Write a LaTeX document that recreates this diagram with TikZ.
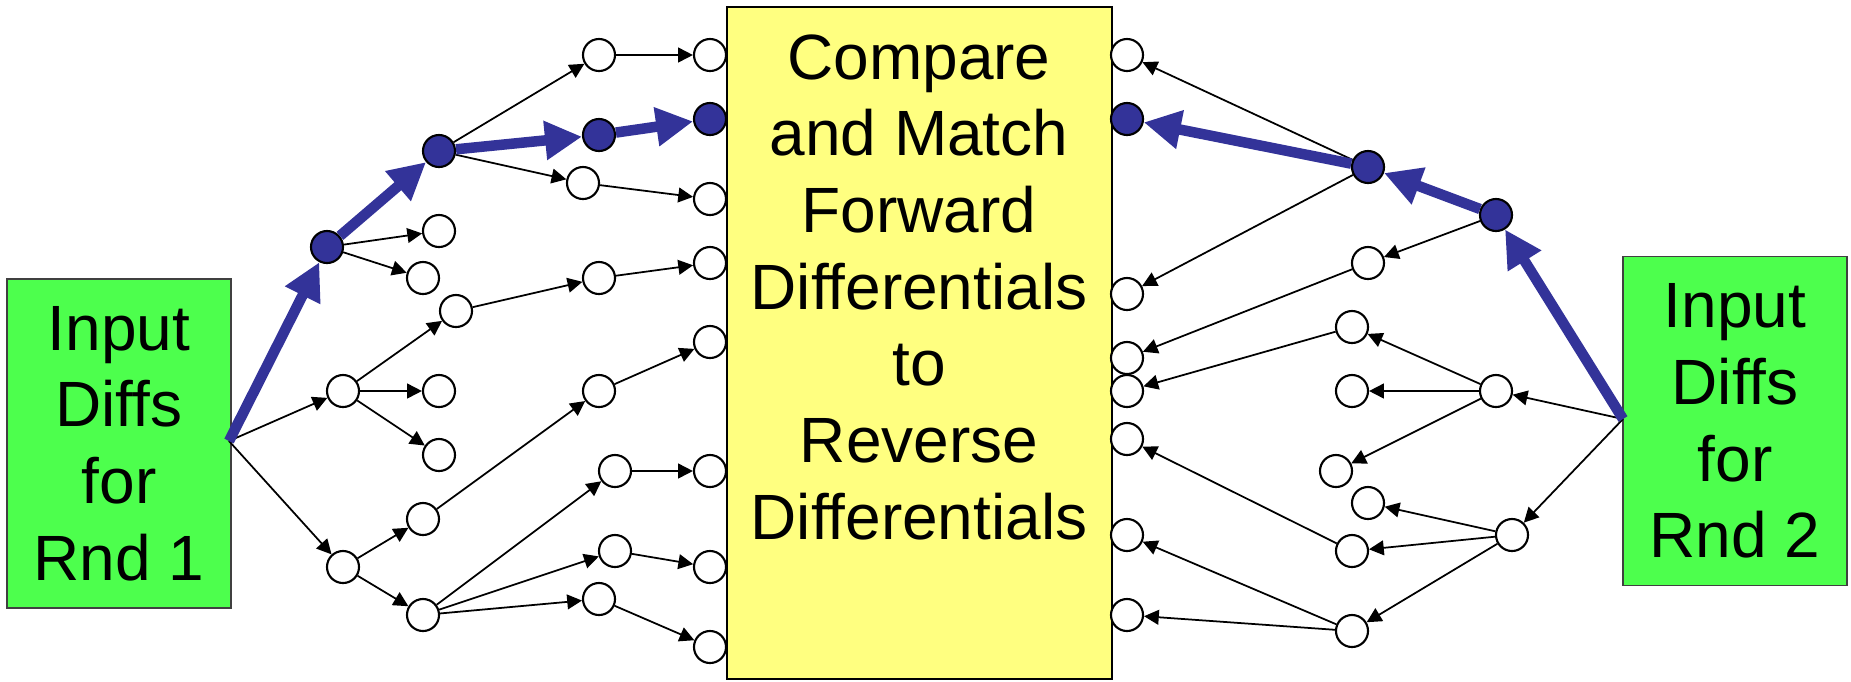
\documentclass[tikz,border=0pt]{standalone}
\usepackage{fontspec}
\setmainfont{Liberation Sans}
\usetikzlibrary{arrows.meta}
\definecolor{boxgreen}{RGB}{77,255,77}
\definecolor{boxyellow}{RGB}{255,255,128}
\definecolor{pathblue}{RGB}{51,51,153}

\begin{document}
\begin{tikzpicture}[x=0.01cm, y=-0.01cm,
  dot/.style={circle, draw, line width=0.6pt, fill=white, minimum size=0.32cm, inner sep=0pt},
  hit/.style={dot, fill=pathblue},
  fwd/.style={-{Triangle[length=4.2pt,width=4.2pt]}, line width=0.5pt},
  hot/.style={-{Triangle[length=0.37cm,width=0.37cm]}, line width=0.105cm, pathblue},
  bigtext/.style={align=center, font=\fontsize{18.2pt}{21.8pt}\selectfont, inner sep=0pt},
  inbox/.style={bigtext, draw=black!75, line width=0.5pt, fill=boxgreen, minimum width=2.24cm, minimum height=3.29cm}]
\useasboundingbox (0,0) rectangle (1851,681);
\node[draw, line width=0.6pt, fill=boxyellow, minimum width=3.85cm, minimum height=6.72cm, inner sep=0pt] (match) at (919.5,343) {};
\node[bigtext] (matchtext) at (919,287) {Compare\\and Match\\Forward\\Differentials\\to\\Reverse\\Differentials};
\node[inbox] (in1) at (119,443.5) {Input\\Diffs\\for\\Rnd 1};
\node[inbox] (in2) at (1735,421) {Input\\Diffs\\for\\Rnd 2};
\coordinate (src1) at (229,441);
\coordinate (src2) at (1623,419);

\node[hit] (b1) at (327,247) {};
\node[hit] (b2) at (439,151) {};
\node[hit] (b3) at (599,135) {};
\node[hit] (tb) at (710,119) {};
\node[dot] (a1) at (599,55) {};
\node[dot] (t1) at (710,55) {};
\node[dot] (c) at (583,183) {};
\node[dot] (t3) at (710,199) {};
\node[dot] (d1) at (439,231) {};
\node[dot] (d2) at (423,278) {};
\node[dot] (g) at (343,391) {};
\node[dot] (g1) at (439,391) {};
\node[dot] (g2) at (439,455) {};
\node[dot] (e) at (456,311) {};
\node[dot] (f) at (599,278) {};
\node[dot] (t4) at (710,263) {};
\node[dot] (h) at (343,567) {};
\node[dot] (h1) at (423,519) {};
\node[dot] (k) at (599,391) {};
\node[dot] (t5) at (710,342) {};
\node[dot] (h2) at (423,615) {};
\node[dot] (m1) at (615,471) {};
\node[dot] (t6) at (710,471) {};
\node[dot] (m2) at (615,551) {};
\node[dot] (t7) at (710,567) {};
\node[dot] (m3) at (599,599) {};
\node[dot] (t8) at (710,647) {};

\node[dot] (r1) at (1127,55) {};
\node[hit] (rb) at (1127,119) {};
\node[dot] (r3) at (1127,294) {};
\node[dot] (r4) at (1127,358) {};
\node[dot] (r5) at (1127,391) {};
\node[dot] (r6) at (1127,439) {};
\node[dot] (r7) at (1127,535) {};
\node[dot] (r8) at (1127,615) {};
\node[hit] (rc) at (1368,167) {};
\node[hit] (rd) at (1496,215) {};
\node[dot] (re) at (1368,263) {};
\node[dot] (rf) at (1352,327) {};
\node[dot] (rg) at (1352,391) {};
\node[dot] (rh) at (1336,471) {};
\node[dot] (rs) at (1496,391) {};
\node[dot] (rt) at (1512,535) {};
\node[dot] (ri) at (1368,503) {};
\node[dot] (rj) at (1352,551) {};
\node[dot] (rk) at (1352,631) {};

\draw[fwd] (b1) -- (d1);
\draw[fwd] (b1) -- (d2);
\draw[fwd] (b2) -- (a1);
\draw[fwd] (b2) -- (c);
\draw[fwd] (a1) -- (t1);
\draw[fwd] (c) -- (t3);
\draw[fwd] (src1) -- (g);
\draw[fwd] (src1) -- (h);
\draw[fwd] (g) -- (e);
\draw[fwd] (g) -- (g1);
\draw[fwd] (g) -- (g2);
\draw[fwd] (e) -- (f);
\draw[fwd] (f) -- (t4);
\draw[fwd] (h) -- (h1);
\draw[fwd] (h) -- (h2);
\draw[fwd] (h1) -- (k);
\draw[fwd] (k) -- (t5);
\draw[fwd] (h2) -- (m1);
\draw[fwd] (h2) -- (m2);
\draw[fwd] (h2) -- (m3);
\draw[fwd] (m1) -- (t6);
\draw[fwd] (m2) -- (t7);
\draw[fwd] (m3) -- (t8);

\draw[fwd] (rc) -- (r1);
\draw[fwd] (rc) -- (r3);
\draw[fwd] (rd) -- (re);
\draw[fwd] (re) -- (r4);
\draw[fwd] (rf) -- (r5);
\draw[fwd] (src2) -- (rs);
\draw[fwd] (src2) -- (rt);
\draw[fwd] (rs) -- (rf);
\draw[fwd] (rs) -- (rg);
\draw[fwd] (rs) -- (rh);
\draw[fwd] (rt) -- (ri);
\draw[fwd] (rt) -- (rj);
\draw[fwd] (rt) -- (rk);
\draw[fwd] (rj) -- (r6);
\draw[fwd] (rk) -- (r7);
\draw[fwd] (rk) -- (r8);

\draw[hot] (src1) -- (b1);
\draw[hot] (b1) -- (b2);
\draw[hot] (b2) -- (b3);
\draw[hot] (b3) -- (tb);
\draw[hot] (src2) -- (rd);
\draw[hot] (rd) -- (rc);
\draw[hot] (rc) -- (rb);
\end{tikzpicture}
\end{document}
